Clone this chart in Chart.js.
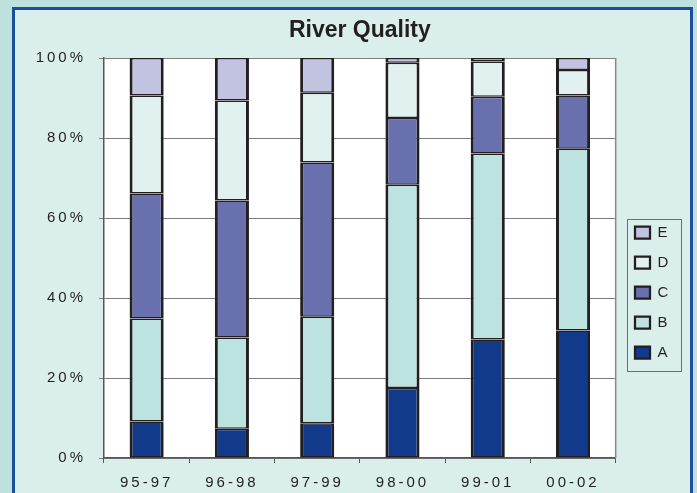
<!DOCTYPE html>
<html>
<head>
<meta charset="utf-8">
<title>River Quality</title>
<script src="https://cdn.jsdelivr.net/npm/chart.js@4/dist/chart.umd.min.js"></script>
<style>
  html, body { margin: 0; padding: 0; background: #bde2de; }
  #wrap { width: 697px; height: 493px; position: relative; }
</style>
</head>
<body>
<div id="wrap"><canvas id="riverChart"></canvas></div>
<script>
const periods = ['95-97', '96-98', '97-99', '98-00', '99-01', '00-02'];
const gradeA = [9.1, 7.3, 8.7, 17.5, 29.6, 31.9];
const gradeB = [25.8, 22.8, 26.6, 50.8, 46.5, 45.4];
const gradeC = [31.2, 34.3, 38.6, 16.7, 14.2, 13.3];
const gradeD = [24.5, 25.0, 17.4, 13.8, 8.8, 6.4];
const gradeE = [9.4, 10.6, 8.7, 1.2, 0.9, 3.0];
const yTicks = [0, 20, 40, 60, 80, 100];

const FONT = '"Liberation Sans", Arial, sans-serif';
const TEXT = '#231f20';

// tick labels in the original are letter-spaced
const origDrawLabels = Chart.Scale.prototype.drawLabels;
Chart.Scale.prototype.drawLabels = function (area) {
  this.ctx.save();
  this.ctx.letterSpacing = '3px';
  origDrawLabels.call(this, area);
  this.ctx.restore();
};

const framePlugin = {
  id: 'frame',
  afterLayout(chart) {
    const lg = chart.legend;
    lg.left = 620; lg.right = 690;
    lg.top = 210; lg.bottom = 385;
  },
  beforeDraw(chart) {
    const { ctx, chartArea: a } = chart;
    ctx.save();
    ctx.fillStyle = '#bde2de';
    ctx.fillRect(0, 0, chart.width, chart.height);
    ctx.fillStyle = '#daeeeb';
    ctx.fillRect(12, 7, 681, 500);
    ctx.strokeStyle = '#1b4f9c';
    ctx.lineWidth = 3;
    ctx.strokeRect(13.5, 8.5, 678, 500);
    ctx.fillStyle = '#ffffff';
    ctx.fillRect(a.left, a.top, a.right - a.left, a.bottom - a.top);
    ctx.restore();
  },
  afterDraw(chart) {
    const { ctx, chartArea: a } = chart;
    ctx.save();
    ctx.strokeStyle = '#8a8a8a';
    ctx.lineWidth = 1.5;
    ctx.beginPath();
    ctx.moveTo(a.right, a.top);
    ctx.lineTo(a.right, a.bottom);
    ctx.stroke();
    ctx.strokeStyle = '#6d6d6d';
    ctx.lineWidth = 1;
    ctx.strokeRect(627.5, 219.5, 54, 152);
    ctx.restore();
  }
};

function series(label, data, color) {
  return {
    label: label,
    data: data,
    backgroundColor: color,
    borderColor: '#231f20',
    borderWidth: { top: 1.5, bottom: 1.5, left: 3, right: 3 },
    borderSkipped: false,
    categoryPercentage: 1,
    barPercentage: 0.4
  };
}

new Chart(document.getElementById('riverChart'), {
  type: 'bar',
  data: {
    labels: periods,
    datasets: [
      series('A', gradeA, '#123a8a'),
      series('B', gradeB, '#bce3df'),
      series('C', gradeC, '#6870ad'),
      series('D', gradeD, '#e0f1ef'),
      series('E', gradeE, '#c2c3e0')
    ]
  },
  options: {
    responsive: true,
    maintainAspectRatio: false,
    animation: false,
    layout: { padding: { left: 0, right: 23, top: 0, bottom: 0 } },
    plugins: {
      tooltip: { enabled: false },
      title: {
        display: true,
        fullSize: false,
        text: 'River Quality',
        color: TEXT,
        font: { family: FONT, size: 23, weight: 'bold' },
        padding: { top: 17, bottom: 13.4 }
      },
      legend: {
        position: 'right',
        align: 'start',
        reverse: true,
        labels: {
          color: TEXT,
          font: { family: FONT, size: 15 },
          boxWidth: 15,
          boxHeight: 12,
          padding: 15
        }
      }
    },
    scales: {
      x: {
        stacked: true,
        afterFit: s => { s.height = 35; },
        grid: { display: true, drawOnChartArea: false, tickLength: 5, color: '#555' },
        border: { color: '#555', width: 1.5 },
        ticks: { color: TEXT, font: { family: FONT, size: 15 }, padding: 11, maxRotation: 0 }
      },
      y: {
        stacked: true,
        min: 0,
        max: 100,
        afterFit: s => { s.width = 104; },
        afterBuildTicks: s => { s.ticks = yTicks.map(v => ({ value: v })); },
        grid: { color: '#7f7f7f', tickLength: 5, lineWidth: 1 },
        border: { color: '#555', width: 1.5 },
        ticks: {
          color: TEXT,
          font: { family: FONT, size: 15 },
          padding: 13,
          callback: v => v + '%'
        }
      }
    }
  },
  plugins: [framePlugin]
});
</script>
</body>
</html>
